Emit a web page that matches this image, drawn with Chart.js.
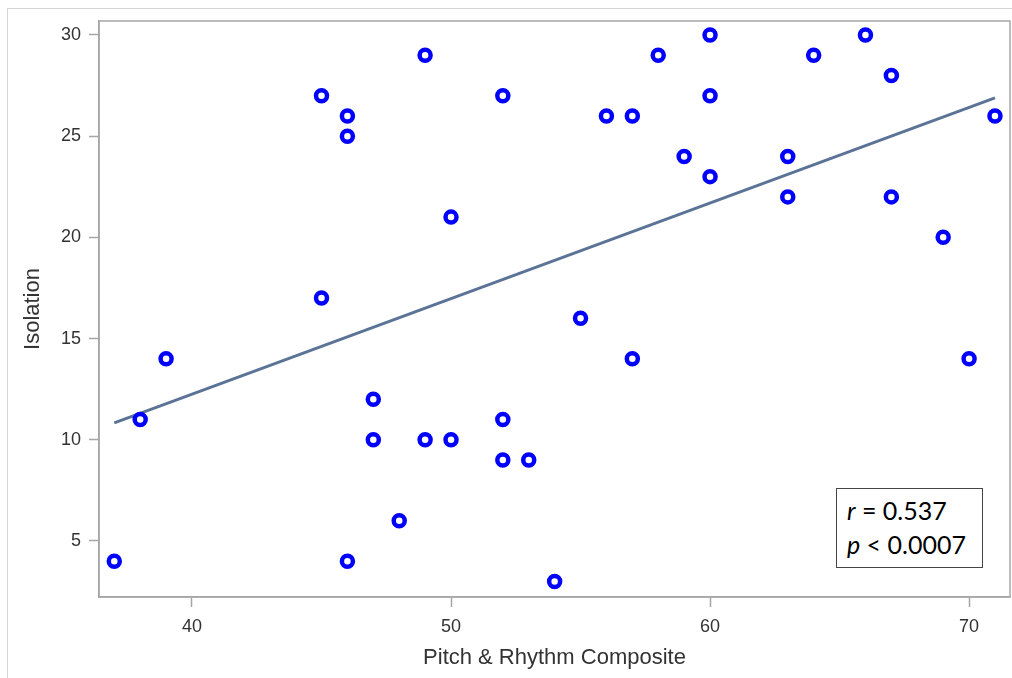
<!DOCTYPE html>
<html>
<head>
<meta charset="utf-8">
<script src="https://cdn.jsdelivr.net/npm/chart.js@4.4.0/dist/chart.umd.min.js"></script>
<style>
  html, body { margin: 0; padding: 0; background: #fff; }
  #wrap { position: relative; width: 1012px; height: 678px; overflow: hidden; }
  #frame { position: absolute; left: 7px; top: 8px; width: 1100px; height: 800px; border: 1px solid #d4d4d4; box-sizing: border-box; }
  #c { position: absolute; left: 0; top: 0; }
  #note { position: absolute; left: 836px; top: 488px; width: 147px; height: 80px; box-sizing: border-box;
          border: 1px solid #444; background: #fff; font-family: Lato, "Open Sans", sans-serif; font-size: 25px;
          line-height: 34px; color: #000; padding: 4px 0 0 10px; }
  #note i { font-style: italic; }
</style>
</head>
<body>
<div id="wrap">
  <div id="frame"></div>
  <canvas id="c" width="1020" height="678"></canvas>
  <div id="note"><div><i>r</i> = 0.537</div><div><i>p</i> &lt; 0.0007</div></div>
</div>
<script>
// Data
const pitchRhythm = [37, 38, 39, 45, 45, 46, 46, 46, 47, 47, 48, 49, 49, 50, 50, 52, 52, 52, 53, 54, 55, 56, 57, 57, 58, 59, 60, 60, 60, 63, 63, 64, 66, 67, 67, 69, 70, 71];
const isolation   = [ 4, 11, 14, 27, 17, 26, 25,  4, 12, 10,  6, 29, 10, 21, 10, 27, 11,  9,  9,  3, 16, 26, 26, 14, 29, 24, 30, 27, 23, 24, 22, 29, 30, 28, 22, 20, 14, 26];
const fitX = [37, 71];
const fitY = [10.83, 26.89];
const xTicks = [40, 50, 60, 70];
const yTicks = [5, 10, 15, 20, 25, 30];
const xTitle = 'Pitch & Rhythm Composite';
const yTitle = 'Isolation';

const points = pitchRhythm.map((x, i) => ({ x: x, y: isolation[i] }));
const fitLine = fitX.map((x, i) => ({ x: x, y: fitY[i] }));

const axisGray = '#a6a6a6';
const textColor = '#333333';
const fontFam = '"Liberation Sans", Arial, sans-serif';

const frameBox = {
  id: 'frameBox',
  afterDraw(chart) {
    const a = chart.chartArea, ctx = chart.ctx;
    ctx.save();
    ctx.strokeStyle = axisGray;
    ctx.lineWidth = 1.5;
    ctx.strokeRect(a.left, a.top, a.right - a.left, a.bottom - a.top);
    ctx.restore();
  }
};

new Chart(document.getElementById('c'), {
  type: 'scatter',
  data: {
    datasets: [
      {
        label: 'Observed',
        data: points,
        pointStyle: 'circle',
        pointRadius: 5.5,
        pointHoverRadius: 5.5,
        pointBorderWidth: 4.5,
        pointBackgroundColor: '#ffffff',
        pointBorderColor: '#0000ff',
        showLine: false
      },
      {
        label: 'Fit',
        type: 'line',
        data: fitLine,
        borderColor: '#5b7396',
        borderWidth: 3,
        pointRadius: 0,
        fill: false,
        tension: 0
      }
    ]
  },
  options: {
    responsive: false,
    animation: false,
    layout: { padding: { top: 21, right: 2, left: 0, bottom: 0 } },
    plugins: { legend: { display: false }, tooltip: { enabled: false } },
    scales: {
      x: {
        type: 'linear',
        min: 36.41,
        max: 71.58,
        afterBuildTicks: s => { s.ticks = xTicks.map(v => ({ value: v })); },
        afterFit: s => { s.height = 81; },
        grid: { display: true, drawOnChartArea: false, drawTicks: true, tickLength: 10, tickColor: axisGray, tickWidth: 1.5 },
        border: { display: true, color: axisGray, width: 1.5 },
        ticks: { color: textColor, font: { family: fontFam, size: 18 }, padding: 9, maxRotation: 0 },
        title: { display: true, text: xTitle, color: textColor, font: { family: fontFam, size: 22 }, padding: { top: 4, bottom: 7 } }
      },
      y: {
        type: 'linear',
        min: 2.23,
        max: 30.69,
        afterBuildTicks: s => { s.ticks = yTicks.map(v => ({ value: v })); },
        afterFit: s => { s.width = 99; },
        grid: { display: true, drawOnChartArea: false, drawTicks: true, tickLength: 10, tickColor: axisGray, tickWidth: 1.5 },
        border: { display: true, color: axisGray, width: 1.5 },
        ticks: { color: textColor, font: { family: fontFam, size: 18 }, padding: 8 },
        title: { display: true, text: yTitle, color: textColor, font: { family: fontFam, size: 22 }, padding: { top: 20, bottom: 0 } }
      }
    }
  },
  plugins: [frameBox]
});
</script>
</body>
</html>
